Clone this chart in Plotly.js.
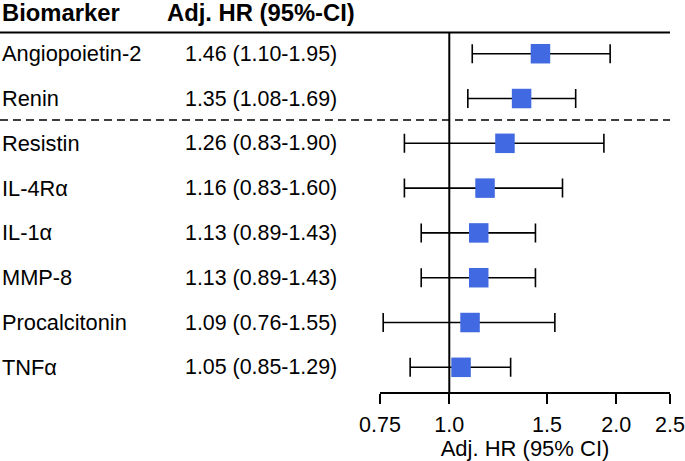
<!DOCTYPE html>
<html>
<head>
<meta charset="utf-8">
<script src="https://cdn.plot.ly/plotly-3.0.1.min.js"></script>
<style>
  html, body { margin: 0; padding: 0; background: #fff; }
  #chart { width: 685px; height: 461px; }
</style>
</head>
<body>
<div id="chart"></div>
<script>
// ---- data ----
const biomarkers = ['Angiopoietin-2', 'Renin', 'Resistin', 'IL-4R\u03b1', 'IL-1\u03b1', 'MMP-8', 'Procalcitonin', 'TNF\u03b1'];
const hr   = [1.46, 1.35, 1.26, 1.16, 1.13, 1.13, 1.09, 1.05];
const ciLo = [1.10, 1.08, 0.83, 0.83, 0.89, 0.89, 0.76, 0.85];
const ciHi = [1.95, 1.69, 1.90, 1.60, 1.43, 1.43, 1.55, 1.29];
const tickVals = [0.75, 1.0, 1.5, 2.0, 2.5];
const tickText = ['0.75', '1.0', '1.5', '2.0', '2.5'];
const headers = ['Biomarker', 'Adj. HR (95%-CI)'];
const axisTitle = 'Adj. HR (95% CI)';
const refValue = 1;

// ---- layout constants ----
const W = 685, H = 461;
const FONT = 'Liberation Sans, Arial, sans-serif';
const rows = biomarkers.map((_, i) => i);
const yTop = -1.199, yBottom = 7.551;
const headerY = -0.931, headerLineY = -0.4754, dashY = 1.48;
const domLeft = 380 / W, domRight = 670 / W;

const hrText = hr.map((v, i) => v.toFixed(2) + ' (' + ciLo[i].toFixed(2) + '-' + ciHi[i].toFixed(2) + ')');

const traces = [
  {
    type: 'scatter', mode: 'lines',
    x: [refValue, refValue], y: [headerLineY, yBottom],
    line: { color: '#000', width: 2 },
    hoverinfo: 'skip', showlegend: false, cliponaxis: false
  },
  {
    type: 'scatter', mode: 'markers',
    x: hr, y: rows,
    marker: { symbol: 'square', size: 19.5, color: '#4169E1', line: { width: 0 } },
    error_x: {
      type: 'data', symmetric: false,
      array: hr.map((v, i) => ciHi[i] - v),
      arrayminus: hr.map((v, i) => v - ciLo[i]),
      color: '#000', thickness: 1.6, width: 9.5
    },
    showlegend: false
  }
];

const annotations = [];
biomarkers.forEach((b, i) => {
  annotations.push({ xref: 'paper', yref: 'y', x: 0, y: rows[i], xanchor: 'left', yanchor: 'middle',
    text: b, showarrow: false, font: { family: FONT, size: 21.8, color: '#000' } });
  annotations.push({ xref: 'paper', yref: 'y', x: 183 / W, y: rows[i], xanchor: 'left', yanchor: 'middle',
    text: hrText[i], showarrow: false, font: { family: FONT, size: 21.4, color: '#000' } });
});
annotations.push({ xref: 'paper', yref: 'y', x: 0, y: headerY, xanchor: 'left', yanchor: 'middle',
  text: '<b>' + headers[0] + '</b>', showarrow: false, font: { family: FONT, size: 23.8, color: '#000' } });
annotations.push({ xref: 'paper', yref: 'y', x: 165 / W, y: headerY, xanchor: 'left', yanchor: 'middle',
  text: '<b>' + headers[1] + '</b>', showarrow: false, font: { family: FONT, size: 23.8, color: '#000' } });

const layout = {
  width: W, height: H,
  margin: { l: 0, r: 0, t: 0, b: 69, pad: 0 },
  paper_bgcolor: '#fff', plot_bgcolor: '#fff',
  showlegend: false,
  font: { family: FONT, color: '#000' },
  xaxis: {
    type: 'log',
    domain: [domLeft, domRight],
    range: [Math.log10(tickVals[0]), Math.log10(tickVals[tickVals.length - 1])],
    tickvals: tickVals, ticktext: tickText,
    ticks: 'outside', ticklen: 10, tickwidth: 1.6, tickcolor: '#000',
    ticklabelstandoff: 3,
    showline: true, linecolor: '#000', linewidth: 1.6,
    showgrid: false, zeroline: false,
    tickfont: { family: FONT, size: 21.5, color: '#000' },
    title: { text: axisTitle, font: { family: FONT, size: 22, color: '#000' }, standoff: 6 },
    automargin: false, fixedrange: true
  },
  yaxis: {
    range: [yBottom, yTop],
    visible: false, showgrid: false, zeroline: false, fixedrange: true
  },
  shapes: [
    { type: 'line', xref: 'paper', yref: 'y', x0: 0, x1: domRight, y0: headerLineY, y1: headerLineY,
      line: { color: '#000', width: 2 } },
    { type: 'line', xref: 'paper', yref: 'y', x0: 0, x1: domRight, y0: dashY, y1: dashY,
      line: { color: '#000', width: 1.6, dash: '8px,5px' } }
  ],
  annotations: annotations
};

Plotly.newPlot('chart', traces, layout, { displayModeBar: false, staticPlot: true });
</script>
</body>
</html>
